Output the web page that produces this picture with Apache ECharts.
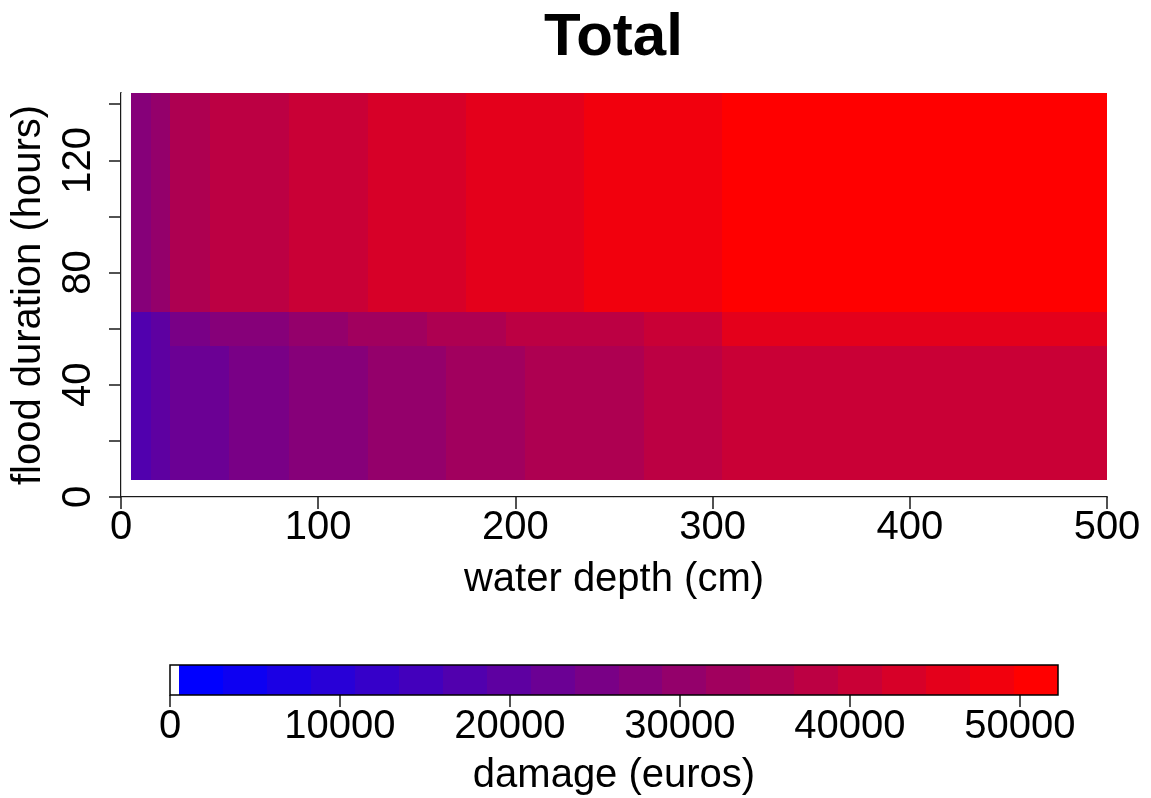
<!DOCTYPE html>
<html>
<head>
<meta charset="utf-8">
<title>Total</title>
<script src="https://cdn.jsdelivr.net/npm/echarts@6/dist/echarts.min.js"></script>
<style>
  html, body { margin: 0; padding: 0; background: #ffffff; }
  #chart { width: 1151px; height: 798px; }
</style>
</head>
<body>
<div id="chart"></div>
<script>
// Flood duration bands (hours): lower and upper edge of each row of cells
const durationBands = [[6, 54], [54, 66], [66, 144]];

// Water depth cell edges (cm) for each duration band
const depthEdgesLow  = [5, 15, 25, 55, 85, 125, 165, 205, 265, 305, 500];
const depthEdgesMid  = [5, 15, 25, 45, 85, 115, 155, 195, 265, 305, 500];
const depthEdgesHigh = [5, 15, 25, 45, 85, 125, 175, 235, 305, 500];

// Total damage (euros) in each cell, per duration band
const damageLow  = [17200, 19800, 22600, 25200, 27600, 30100, 32800, 35300, 38100, 40500];
const damageMid  = [17500, 20100, 25000, 27800, 30400, 32700, 35600, 37900, 40800, 45600];
const damageHigh = [27500, 30200, 35500, 38200, 40700, 43100, 45900, 48300, 51600];

// Axis ticks and labels
const depthTicks = [0, 100, 200, 300, 400, 500];
const durationTicks = [0, 20, 40, 60, 80, 100, 120, 140];
const durationLabels = [0, 40, 80, 120];

// Colour key: range of the scale, first coloured break and number of colour steps
const keyMin = 0;
const keyStart = 530;
const keyMax = 52250;
const keySteps = 20;
const keyTicks = [0, 10000, 20000, 30000, 40000, 50000];

const FONT = '"Liberation Sans", Arial, Helvetica, sans-serif';
const AXIS_COLOR = '#1a1a1a';

// Blue-to-red ramp with keySteps colours
const ramp = [];
for (let i = 0; i < keySteps; i++) {
  const r = Math.round(255 * i / (keySteps - 1));
  const b = Math.round(255 * (keySteps - 1 - i) / (keySteps - 1));
  ramp.push('rgb(' + r + ',0,' + b + ')');
}
const stepWidth = (keyMax - keyStart) / keySteps;
function colourOf(v) {
  if (v < keyStart) return '#ffffff';
  let k = Math.floor((v - keyStart) / stepWidth);
  if (k > keySteps - 1) k = keySteps - 1;
  return ramp[k];
}

// Cells: [depth from, depth to, duration from, duration to, damage]
const cells = [];
[[depthEdgesLow, damageLow], [depthEdgesMid, damageMid], [depthEdgesHigh, damageHigh]]
  .forEach(function (row, r) {
    const edges = row[0], vals = row[1];
    for (let i = 0; i < vals.length; i++) {
      cells.push([edges[i], edges[i + 1], durationBands[r][0], durationBands[r][1], vals[i]]);
    }
  });

// Colour key segments: [from, to, colour index]  (-1 = below the first break)
const keySegments = [[keyMin, keyStart, -1]];
for (let i = 0; i < keySteps; i++) {
  keySegments.push([keyStart + i * stepWidth, keyStart + (i + 1) * stepWidth, i]);
}

function rectFrom(api, x0, x1, y0, y1) {
  const a = api.coord([x0, y1]);
  const b = api.coord([x1, y0]);
  const x = Math.round(a[0]), y = Math.round(a[1]);
  return { x: x, y: y, width: Math.round(b[0]) - x, height: Math.round(b[1]) - y };
}

const labelStyle = { fontSize: 40, color: '#000', fontFamily: FONT };
const plainNumber = function (v) { return String(v); };

const chart = echarts.init(document.getElementById('chart'), null, { renderer: 'canvas' });
chart.setOption({
  animation: false,
  backgroundColor: '#ffffff',
  title: {
    text: 'Total',
    left: 544,
    top: 8,
    padding: 0,
    textStyle: { fontSize: 60, fontWeight: 'bold', color: '#000', fontFamily: FONT }
  },
  grid: [
    { left: 121, top: 93, width: 986, height: 404 },
    { left: 170, top: 665, width: 888, height: 30 }
  ],
  xAxis: [
    {
      type: 'value', gridIndex: 0, min: 0, max: 500, interval: 100,
      axisLine: { lineStyle: { color: AXIS_COLOR, width: 2 } },
      axisTick: { length: 12, lineStyle: { color: AXIS_COLOR, width: 1.5 }, customValues: depthTicks },
      axisLabel: Object.assign({ margin: 11, customValues: depthTicks, formatter: plainNumber }, labelStyle),
      splitLine: { show: false },
      name: 'water depth (cm)', nameLocation: 'middle', nameGap: 63,
      nameTextStyle: labelStyle
    },
    {
      type: 'value', gridIndex: 0, min: 0, max: 500, position: 'top', offset: 1,
      axisLine: { lineStyle: { color: '#cccccc', width: 1 } },
      axisTick: { show: false }, axisLabel: { show: false }, splitLine: { show: false }
    },
    {
      type: 'value', gridIndex: 1, min: keyMin, max: keyMax,
      axisLine: { show: false },
      axisTick: { length: 12, lineStyle: { color: AXIS_COLOR, width: 1.5 }, customValues: keyTicks },
      axisLabel: Object.assign({ margin: 12, customValues: keyTicks, formatter: plainNumber }, labelStyle),
      splitLine: { show: false },
      name: 'damage (euros)', nameLocation: 'middle', nameGap: 61,
      nameTextStyle: labelStyle
    }
  ],
  yAxis: [
    {
      type: 'value', gridIndex: 0, min: 0, max: 144,
      axisLine: { lineStyle: { color: AXIS_COLOR, width: 2 } },
      axisTick: { length: 12, lineStyle: { color: AXIS_COLOR, width: 1.5 }, customValues: durationTicks },
      axisLabel: Object.assign({ margin: 22, rotate: 90, customValues: durationLabels, formatter: plainNumber }, labelStyle),
      splitLine: { show: false },
      name: 'flood duration (hours)', nameLocation: 'middle', nameGap: 72,
      nameTextStyle: labelStyle
    },
    {
      type: 'value', gridIndex: 0, min: 0, max: 144, position: 'right', offset: 1,
      axisLine: { lineStyle: { color: '#cccccc', width: 1 } },
      axisTick: { show: false }, axisLabel: { show: false }, splitLine: { show: false }
    },
    {
      type: 'value', gridIndex: 1, min: 0, max: 1, show: false
    }
  ],
  series: [
    {
      type: 'custom',
      xAxisIndex: 0, yAxisIndex: 0,
      data: cells,
      encode: { x: [0, 1], y: [2, 3] },
      renderItem: function (params, api) {
        return {
          type: 'rect',
          shape: rectFrom(api, api.value(0), api.value(1), api.value(2), api.value(3)),
          style: { fill: colourOf(api.value(4)) }
        };
      }
    },
    {
      type: 'custom',
      xAxisIndex: 2, yAxisIndex: 2,
      data: keySegments,
      encode: { x: [0, 1] },
      renderItem: function (params, api) {
        const k = api.value(2);
        return {
          type: 'rect',
          shape: rectFrom(api, api.value(0), api.value(1), 0, 1),
          style: { fill: k < 0 ? '#ffffff' : ramp[k] }
        };
      }
    },
    {
      // outline of the colour key
      type: 'custom',
      xAxisIndex: 2, yAxisIndex: 2,
      z: 5,
      data: [[keyMin, keyMax]],
      encode: { x: [0, 1] },
      renderItem: function (params, api) {
        return {
          type: 'rect',
          shape: rectFrom(api, api.value(0), api.value(1), 0, 1),
          style: { fill: 'none', stroke: '#000', lineWidth: 1.5 }
        };
      }
    }
  ]
});
</script>
</body>
</html>
